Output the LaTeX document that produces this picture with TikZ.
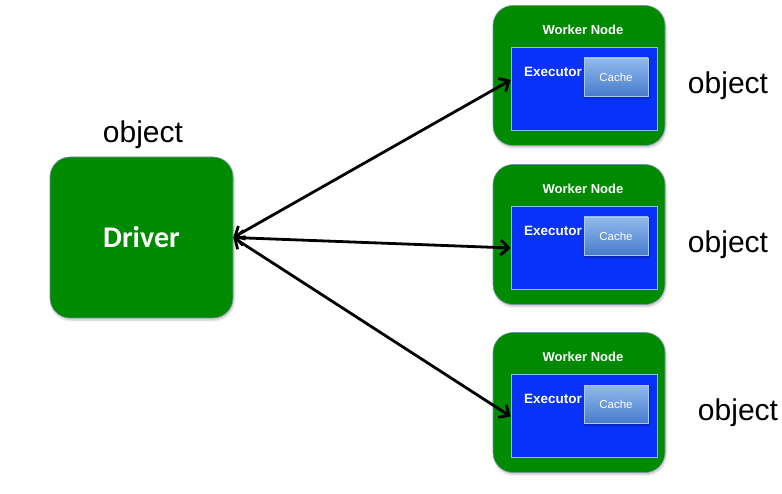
\documentclass[tikz,border=0pt]{standalone}
\usepackage{fontspec}
\setmainfont{Liberation Sans}
\newfontfamily\driverfont{Carlito}
\usetikzlibrary{positioning}
\usetikzlibrary{arrows.meta}
\usetikzlibrary{shadows.blur}
\definecolor{boxgreen}{RGB}{0,138,0}
\definecolor{execblue}{RGB}{8,50,250}
\definecolor{cachetop}{RGB}{145,185,235}
\definecolor{cachebot}{RGB}{72,125,205}
\tikzset{
  greenbox/.style={draw={rgb,255:red,120;green,150;blue,170}, line width=0.6pt, fill=boxgreen,
    rounded corners=20pt, blur shadow={shadow xshift=1pt, shadow yshift=-2pt, shadow opacity=25}},
  execbox/.style={draw={rgb,255:red,150;green,180;blue,255}, line width=0.6pt, fill=execblue,
    minimum width=146pt, minimum height=83pt, inner sep=0pt},
  cachebox/.style={draw={rgb,255:red,170;green,200;blue,235}, line width=0.4pt,
    top color=cachetop, bottom color=cachebot, minimum width=64pt, minimum height=38pt,
    text=white, font=\fontsize{11.5}{12}\selectfont, inner sep=0pt,
    blur shadow={shadow xshift=1pt, shadow yshift=-2pt, shadow opacity=35}},
  objlabel/.style={font=\fontsize{30}{32}\selectfont, inner sep=0pt},
  link/.style={line width=2.8pt, {Straight Barb[length=8pt,width=15pt]}-{Straight Barb[length=8pt,width=15pt]}}
}
\begin{document}
\begin{tikzpicture}[x=1pt,y=1pt,yscale=-1,xscale=1]
\useasboundingbox (0,0) rectangle (782,494);

%Driver
\node [greenbox, minimum width=183pt, minimum height=161pt] (driver) at (141.5,237.5)
  {\driverfont\bfseries\fontsize{30}{32}\selectfont\textcolor{white}{Driver}};
\node [objlabel] (drvobj) at (143,135) {object};

%Worker nodes
\foreach \i/\yc/\ox in {1/75.5/728, 2/234.5/728, 3/402.5/738}{
  \node [greenbox, minimum width=172pt, minimum height=140pt] (worker\i) at (579,\yc) {};
  \node [execbox] (exec\i) at (584,\yc+13) {};
  \node [cachebox] (cache\i) at (616,\yc+1.5) {Cache};
  % Text Node
  \node [text=white, font=\bfseries\fontsize{13}{14}\selectfont, inner sep=0pt] (wlabel\i) at (583,\yc-46) {Worker Node};
  \node [text=white, font=\bfseries\fontsize{13.5}{14}\selectfont, inner sep=0pt, anchor=west] (elabel\i) at (524,\yc-3.5) {Executor};
  \node [objlabel] (wobj\i) at (\ox,\yc+10.5) {object};
}

%Connectors
\draw [link] (driver.east) -- ([yshift=-8.5pt]exec1.west);
\draw [link] (driver.east) -- ([yshift=0.5pt]exec2.west);
\draw [link] (driver.east) -- ([yshift=1pt]exec3.west);

\end{tikzpicture}
\end{document}
